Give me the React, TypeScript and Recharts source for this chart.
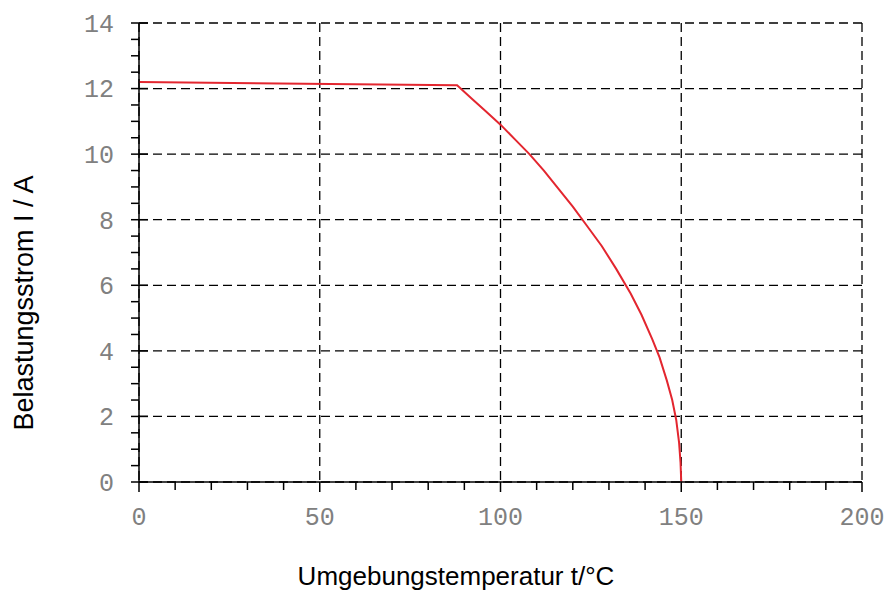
import { LineChart, Line, XAxis, YAxis, CartesianGrid } from "recharts"

const temperature = [0, 88, 92, 96, 100, 104, 108, 112, 116, 120, 124, 128, 132, 136, 139, 142, 144, 146, 147.5, 148.6, 149.4, 149.8, 150]
const current = [12.2, 12.1, 11.7, 11.3, 10.9, 10.45, 10.0, 9.5, 8.95, 8.4, 7.8, 7.2, 6.5, 5.75, 5.1, 4.35, 3.8, 3.1, 2.5, 1.9, 1.2, 0.6, 0]

const xTicks = [0, 50, 100, 150, 200]
const xMinorTicks = [0, 10, 20, 30, 40, 50, 60, 70, 80, 90, 100, 110, 120, 130, 140, 150, 160, 170, 180, 190, 200]
const yTicks = [0, 2, 4, 6, 8, 10, 12, 14]
const yMinorTicks = [0, 0.5, 1, 1.5, 2, 2.5, 3, 3.5, 4, 4.5, 5, 5.5, 6, 6.5, 7, 7.5, 8, 8.5, 9, 9.5, 10, 10.5, 11, 11.5, 12, 12.5, 13, 13.5, 14]

const data = temperature.map((t, i) => ({ t, i: current[i] }))

const TICK_SIZE = 9
const TICK_MARGIN = 16
const labelStyle = { fontFamily: "Liberation Mono", fontSize: 25, fill: "#808080" }
const titleFont = "Liberation Sans"

// draws minor + major tick marks, labels only on the major values
function XTick(props: any) {
  const { x, y, payload } = props
  const axisY = y - TICK_SIZE - TICK_MARGIN
  const major = xTicks.includes(payload.value)
  return (
    <g>
      <line x1={x} x2={x} y1={axisY} y2={axisY + (major ? 10 : 8)} stroke="#000" strokeWidth={1.5} />
      {major && (
        <text x={x} y={y} dy="0.71em" textAnchor="middle" {...labelStyle}>
          {payload.value}
        </text>
      )}
    </g>
  )
}

function YTick(props: any) {
  const { x, y, payload } = props
  const axisX = x + TICK_SIZE + TICK_MARGIN
  const major = yTicks.includes(payload.value)
  return (
    <g>
      <line x1={axisX - 8} x2={major ? axisX + 9 : axisX} y1={y} y2={y} stroke="#000" strokeWidth={1.5} />
      {major && (
        <text x={x} y={y} dy="0.355em" textAnchor="end" {...labelStyle}>
          {payload.value}
        </text>
      )}
    </g>
  )
}

export default function App() {
  return (
    <div style={{ position: "fixed", left: 0, top: 0, width: 893, height: 593, background: "#fff" }}>
      <LineChart width={893} height={593} data={data} margin={{ top: 23, right: 31, left: 79, bottom: 61 }}>
        <CartesianGrid
          stroke="#000"
          strokeDasharray="9 5"
          strokeWidth={1.3}
          horizontalValues={yTicks}
          verticalValues={xTicks}
        />
        <XAxis
          dataKey="t"
          type="number"
          domain={[0, 200]}
          ticks={xMinorTicks}
          interval={0}
          height={50}
          tickSize={TICK_SIZE}
          tickMargin={TICK_MARGIN}
          tickLine={false}
          tick={<XTick />}
          stroke="#000"
          strokeWidth={1.5}
        />
        <YAxis
          type="number"
          domain={[0, 14]}
          ticks={yMinorTicks}
          interval={0}
          width={60}
          tickSize={TICK_SIZE}
          tickMargin={TICK_MARGIN}
          tickLine={false}
          tick={<YTick />}
          stroke="#000"
          strokeWidth={1.5}
        />
        <Line
          dataKey="i"
          type="linear"
          stroke="#e3262f"
          strokeWidth={2}
          dot={false}
          isAnimationActive={false}
        />
      </LineChart>
      <svg width={893} height={593} style={{ position: "absolute", left: 0, top: 0, pointerEvents: "none" }}>
        <text x={456} y={585} textAnchor="middle" fontFamily={titleFont} fontSize={26} fill="#000">
          Umgebungstemperatur t/°C
        </text>
        <text transform="translate(33,303) rotate(-90)" textAnchor="middle" fontFamily={titleFont} fontSize={27} fill="#000">
          Belastungsstrom I / A
        </text>
      </svg>
    </div>
  )
}
